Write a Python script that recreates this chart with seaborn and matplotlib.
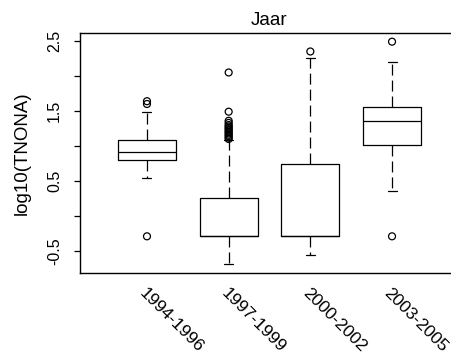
import matplotlib
matplotlib.use("Agg")
import matplotlib.pyplot as plt
import pandas as pd
import seaborn as sns

# Data (log10 scale)
groups = ["1994-1996", "1997-1999", "2000-2002", "2003-2005"]
q1 = [0.80, -0.29, -0.29, 1.02]
medians = [0.91, -0.29, -0.29, 1.35]
q3 = [1.08, 0.26, 0.75, 1.55]
whis_low = [0.55, -0.69, -0.55, 0.36]
whis_high = [1.48, 1.08, 2.26, 2.20]
outliers = [
    [-0.29, 1.60, 1.64],
    [1.10, 1.12, 1.14, 1.16, 1.18, 1.20, 1.22, 1.24, 1.26, 1.28,
     1.30, 1.33, 1.36, 1.49, 2.05],
    [2.35],
    [-0.29, 2.49],
]
ytick_values = [-0.5, 0.0, 0.5, 1.0, 1.5, 2.0, 2.5]
ytick_labels = ["-0.5", "", "0.5", "", "1.5", "", "2.5"]

sns.set_style("white")
plt.rcParams["font.family"] = ["Liberation Sans", "DejaVu Sans"]
plt.rcParams["lines.scale_dashes"] = False

fig = plt.figure(figsize=(4.51, 3.58), dpi=100)
ax = fig.add_axes([80 / 451, 85 / 358, 379 / 451, 240 / 358])

# Outliers
df_out = pd.DataFrame(
    [(g, v) for g, vals in zip(groups, outliers) for v in vals],
    columns=["group", "value"],
)
sns.stripplot(
    data=df_out, x="group", y="value", order=groups, jitter=False, ax=ax,
    marker="o", size=5, facecolor="none", edgecolor="black", linewidth=0.9,
)

# Boxes from the summary statistics
stats = [
    dict(label=g, q1=a, med=m, q3=b, whislo=lo, whishi=hi, fliers=[])
    for g, a, m, b, lo, hi in zip(groups, q1, medians, q3, whis_low, whis_high)
]
line = dict(color="black", linewidth=0.9)
ax.bxp(
    stats, positions=range(len(groups)), widths=0.71, capwidths=0.11,
    showfliers=False, manage_ticks=False,
    boxprops=line, medianprops=line, capprops=line,
    whiskerprops=dict(color="black", linewidth=0.9, linestyle=(0, (7.9, 3.6))),
)

ax.set_xlim(-0.82, 3.82)
ax.set_ylim(-0.814, 2.614)
for sp in ax.spines.values():
    sp.set_visible(True)
    sp.set_color("black")
    sp.set_linewidth(1.0)

ax.set_yticks(ytick_values)
ax.set_yticklabels(ytick_labels, rotation=90, va="center", fontsize=11.5)
ax.tick_params(axis="y", left=True, length=4.3, width=0.9, pad=8.5, color="black",
               labelcolor="black")

ax.set_xticks(range(len(groups)))
ax.set_xticklabels(groups, rotation=-45, ha="left", va="top",
                   rotation_mode="anchor", fontsize=12.5)
ax.tick_params(axis="x", bottom=False, length=0, pad=9, labelcolor="black")

ax.set_xlabel("")
ax.set_ylabel("log10(TNONA)", fontsize=13.5, color="black", labelpad=12)
ax.set_title("Jaar", fontsize=13.5, color="black", pad=6)

fig.savefig("out.png", dpi=100)
